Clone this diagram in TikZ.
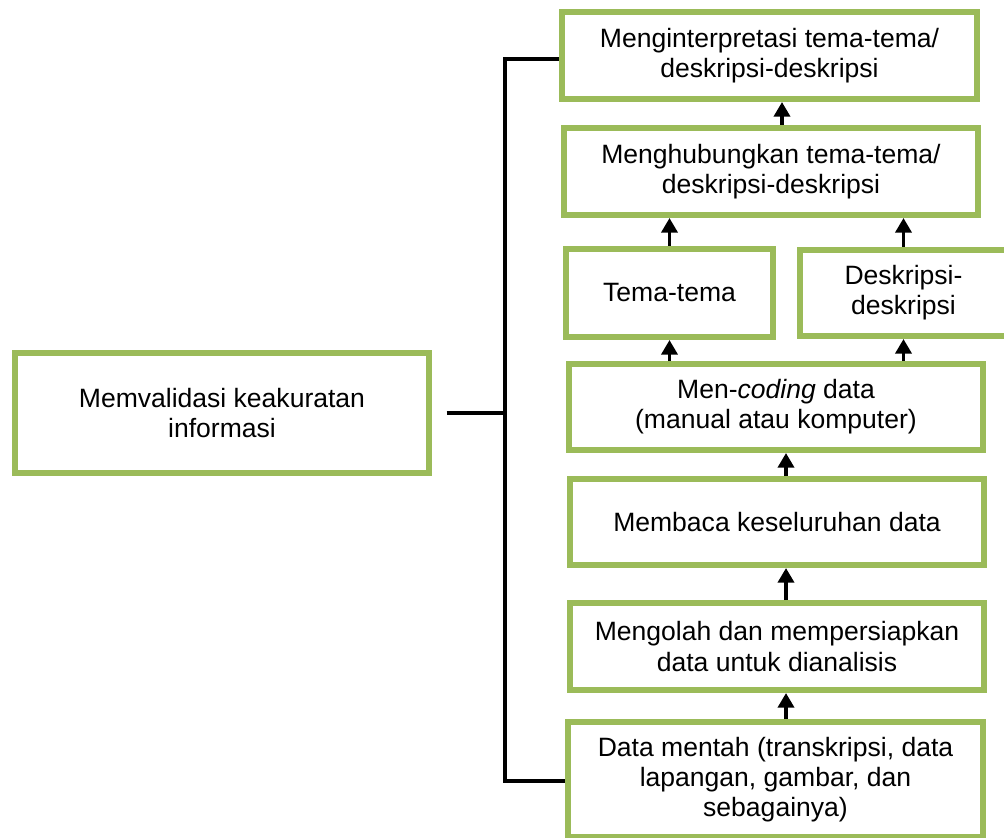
\documentclass[tikz,border=0pt]{standalone}
\usepackage{fontspec}
\setmainfont{Liberation Sans}
\usetikzlibrary{arrows.meta,positioning}
\definecolor{boxcol}{HTML}{9BBB59}

\begin{document}
\begin{tikzpicture}[x=0.75pt,y=-0.75pt,>={Triangle[width=12pt,length=11pt]},
    stage/.style={draw=boxcol,line width=4.5pt,fill=white,align=center,inner sep=0pt,
      font=\fontsize{19.9}{22.6}\selectfont},
    link/.style={->,line width=2.8pt,black},
    brace/.style={line width=2.3pt,black,line join=miter}]
  \clip (0,0) rectangle (1004,838);
  \node[stage,minimum width=311.25pt,minimum height=65.25pt] (interp) at (769.5,55.5)
    {Menginterpretasi tema-tema/\\deskripsi-deskripsi};
  \node[stage,minimum width=310.5pt,minimum height=65.25pt] (relate) at (771,171.5)
    {Menghubungkan tema-tema/\\deskripsi-deskripsi};
  \node[stage,minimum width=155.25pt,minimum height=66pt] (themes) at (669.5,293) {Tema-tema};
  \node[stage,minimum width=155.25pt,minimum height=64.5pt] (descr) at (903.5,293)
    {Deskripsi-\\deskripsi};
  \node[stage,minimum width=310.5pt,minimum height=64.5pt] (coding) at (776,407)
    {Men-\textit{coding} data\\(manual atau komputer)};
  \node[stage,minimum width=310.5pt,minimum height=64.5pt] (read) at (777,522)
    {Membaca keseluruhan data};
  \node[stage,minimum width=310.5pt,minimum height=65.25pt] (prep) at (777,646.5)
    {Mengolah dan mempersiapkan\\data untuk dianalisis};
  \node[stage,minimum width=311.25pt,minimum height=86.25pt] (raw) at (775.5,779.5)
    {Data mentah (transkripsi, data\\lapangan, gambar, dan\\sebagainya)};
  \node[stage,minimum width=310.5pt,minimum height=90pt] (valid) at (222,413)
    {Memvalidasi keakuratan\\informasi};
  % arrow columns
  \coordinate (colA) at (782,0);
  \coordinate (colB) at (786,0);
  \foreach \a/\b in {raw/prep,prep/read,read/coding}
    \draw[link] (\a.north -| colB) -- (\b.south -| colB);
  \foreach \n in {themes,descr} {
    \draw[link] (coding.north -| \n) -- (\n.south);
    \draw[link] (\n.north) -- (relate.south -| \n);
  }
  \draw[link] (relate.north -| colA) -- (interp.south -| colA);
  % bracket
  \coordinate (btop) at (505,59);
  \coordinate (bbot) at (505,781);
  \draw[brace] (interp.west |- btop) -- (btop) -- (bbot) -- (raw.west |- bbot);
  \draw[brace] ([xshift=11pt]valid.east) -- (valid.east -| btop);
\end{tikzpicture}
\end{document}
